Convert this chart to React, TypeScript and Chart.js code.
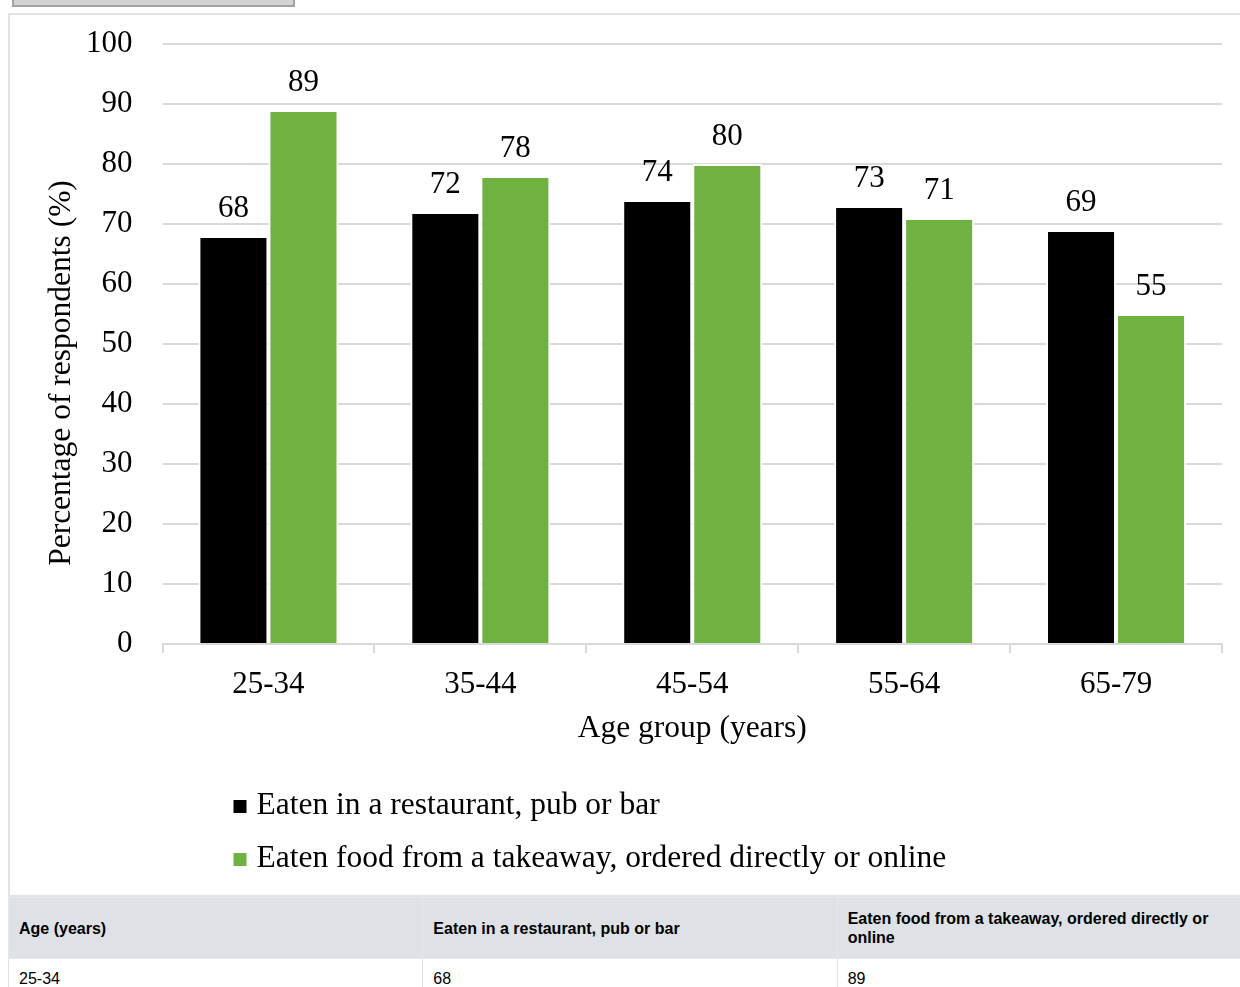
import React, { useEffect, useRef } from "react";
import { Chart, registerables } from "chart.js";

Chart.register(...registerables);

const categories = ["25-34", "35-44", "45-54", "55-64", "65-79"];
const restaurantValues = [68, 72, 74, 73, 69];
const takeawayValues = [89, 78, 80, 71, 55];
const seriesLabels = [
  "Eaten in a restaurant, pub or bar",
  "Eaten food from a takeaway, ordered directly or online",
];
const seriesColors = ["#000000", "#6fb241"];
const yMin = 0;
const yMax = 100;
const yStep = 10;
const xAxisTitle = "Age group (years)";
const yAxisTitle = "Percentage of respondents (%)";
const tableHeaders = ["Age (years)", seriesLabels[0], seriesLabels[1]];

const SERIF = '"Liberation Serif", "Times New Roman", serif';
const FONT = { family: SERIF, size: 31 };

const valueLabelsPlugin = {
  id: "valueLabels",
  afterDatasetsDraw(chart: any) {
    const ctx = chart.ctx;
    ctx.save();
    ctx.font = `31px ${SERIF}`;
    ctx.fillStyle = "#000";
    ctx.textAlign = "center";
    ctx.textBaseline = "alphabetic";
    chart.data.datasets.forEach((ds: any, di: number) => {
      const meta = chart.getDatasetMeta(di);
      meta.data.forEach((bar: any, i: number) => {
        ctx.fillText(String(ds.data[i]), bar.x, bar.y - 19);
      });
    });
    ctx.restore();
  },
};

const yTitlePlugin = {
  id: "yTitle",
  afterDraw(chart: any) {
    const { ctx, chartArea } = chart;
    ctx.save();
    ctx.font = `31.5px ${SERIF}`;
    ctx.fillStyle = "#000";
    ctx.textAlign = "center";
    ctx.textBaseline = "middle";
    ctx.translate(chartArea.left - 101, (chartArea.top + chartArea.bottom) / 2 + 29);
    ctx.rotate(-Math.PI / 2);
    ctx.fillText(yAxisTitle, 0, 0);
    ctx.restore();
  },
};

const legendPlugin = {
  id: "customLegend",
  afterDraw(chart: any) {
    const { ctx, chartArea } = chart;
    ctx.save();
    ctx.font = `31.5px ${SERIF}`;
    ctx.textAlign = "left";
    ctx.textBaseline = "middle";
    chart.data.datasets.forEach((ds: any, i: number) => {
      const x = chartArea.left + 71;
      const y = chartArea.bottom + 162 + i * 53;
      ctx.fillStyle = ds.backgroundColor;
      ctx.fillRect(x, y - 6, 13, 13);
      ctx.fillStyle = "#000";
      ctx.fillText(ds.label, x + 23, y);
    });
    ctx.restore();
  },
};

function BarChart() {
  const ref = useRef<HTMLCanvasElement | null>(null);
  useEffect(() => {
    if (!ref.current) return;
    const chart = new Chart(ref.current, {
      type: "bar",
      data: {
        labels: categories,
        datasets: [
          {
            label: seriesLabels[0],
            data: restaurantValues,
            backgroundColor: seriesColors[0],
            borderColor: "#ffffff",
            borderWidth: 2,
            categoryPercentage: 0.661,
            barPercentage: 1,
          },
          {
            label: seriesLabels[1],
            data: takeawayValues,
            backgroundColor: seriesColors[1],
            borderColor: "#ffffff",
            borderWidth: 2,
            categoryPercentage: 0.661,
            barPercentage: 1,
          },
        ],
      },
      options: {
        responsive: false,
        animation: false,
        layout: { padding: { left: 46, right: 28, top: 29, bottom: 147 } },
        plugins: {
          legend: { display: false },
          tooltip: { enabled: false },
        },
        scales: {
          x: {
            grid: {
              display: true,
              drawOnChartArea: false,
              drawTicks: true,
              tickLength: 9,
              color: "#d9d9d9",
              lineWidth: 2,
            },
            border: { display: true, color: "#d9d9d9", width: 2 },
            ticks: { font: FONT, color: "#000", padding: 13 },
            title: {
              display: true,
              text: xAxisTitle,
              font: { family: SERIF, size: 31.5 },
              color: "#000",
              padding: { top: -6, bottom: 0 },
            },
          },
          y: {
            min: yMin,
            max: yMax,
            ticks: { stepSize: yStep, font: FONT, color: "#000", padding: 30 },
            grid: { color: "#d9d9d9", lineWidth: 2, drawTicks: false },
            border: { display: false },
            afterFit: (scale: any) => {
              scale.paddingTop = 19;
              scale.paddingBottom = 19;
            },
          },
        },
      },
      plugins: [valueLabelsPlugin, yTitlePlugin, legendPlugin],
    });
    return () => chart.destroy();
  }, []);
  return <canvas ref={ref} width={1240} height={880} style={{ display: "block" }} />;
}

export default function App() {
  useEffect(() => {
    document.documentElement.style.overflow = "hidden";
    document.body.style.overflow = "hidden";
  }, []);
  const th: React.CSSProperties = {
    background: "#dee2e6",
    padding: "11px 10px",
    textAlign: "left",
    verticalAlign: "middle",
    fontWeight: 700,
    border: "1px solid #e6e9ec",
    lineHeight: "19px",
  };
  const td: React.CSSProperties = {
    padding: "10px 10px",
    textAlign: "left",
    border: "1px solid #dee2e6",
    lineHeight: "19px",
  };
  return (
    <div
      style={{
        position: "absolute",
        left: 0,
        top: 0,
        width: 1240,
        height: 987,
        overflow: "hidden",
        background: "#fff",
      }}
    >
      <div
        style={{
          position: "absolute",
          left: 12,
          top: -18,
          width: 279,
          height: 23,
          background: "#d3d3d3",
          border: "2px solid #a3a3a3",
          borderTop: "none",
        }}
      />
      <div
        style={{
          position: "absolute",
          left: 8,
          top: 13,
          width: 1240,
          border: "2px solid #e3e3e3",
        }}
      >
        <BarChart />
      </div>
      <table
        style={{
          position: "absolute",
          left: 8,
          top: 897,
          width: 1244,
          borderCollapse: "collapse",
          tableLayout: "fixed",
          fontFamily: '"Liberation Sans", Arial, sans-serif',
          fontSize: 16,
          color: "#000",
        }}
      >
        <thead>
          <tr>
            {tableHeaders.map((h) => (
              <th key={h} style={th}>
                {h}
              </th>
            ))}
          </tr>
        </thead>
        <tbody>
          {categories.map((c, i) => (
            <tr key={c}>
              <td style={td}>{c}</td>
              <td style={td}>{restaurantValues[i]}</td>
              <td style={td}>{takeawayValues[i]}</td>
            </tr>
          ))}
        </tbody>
      </table>
    </div>
  );
}
